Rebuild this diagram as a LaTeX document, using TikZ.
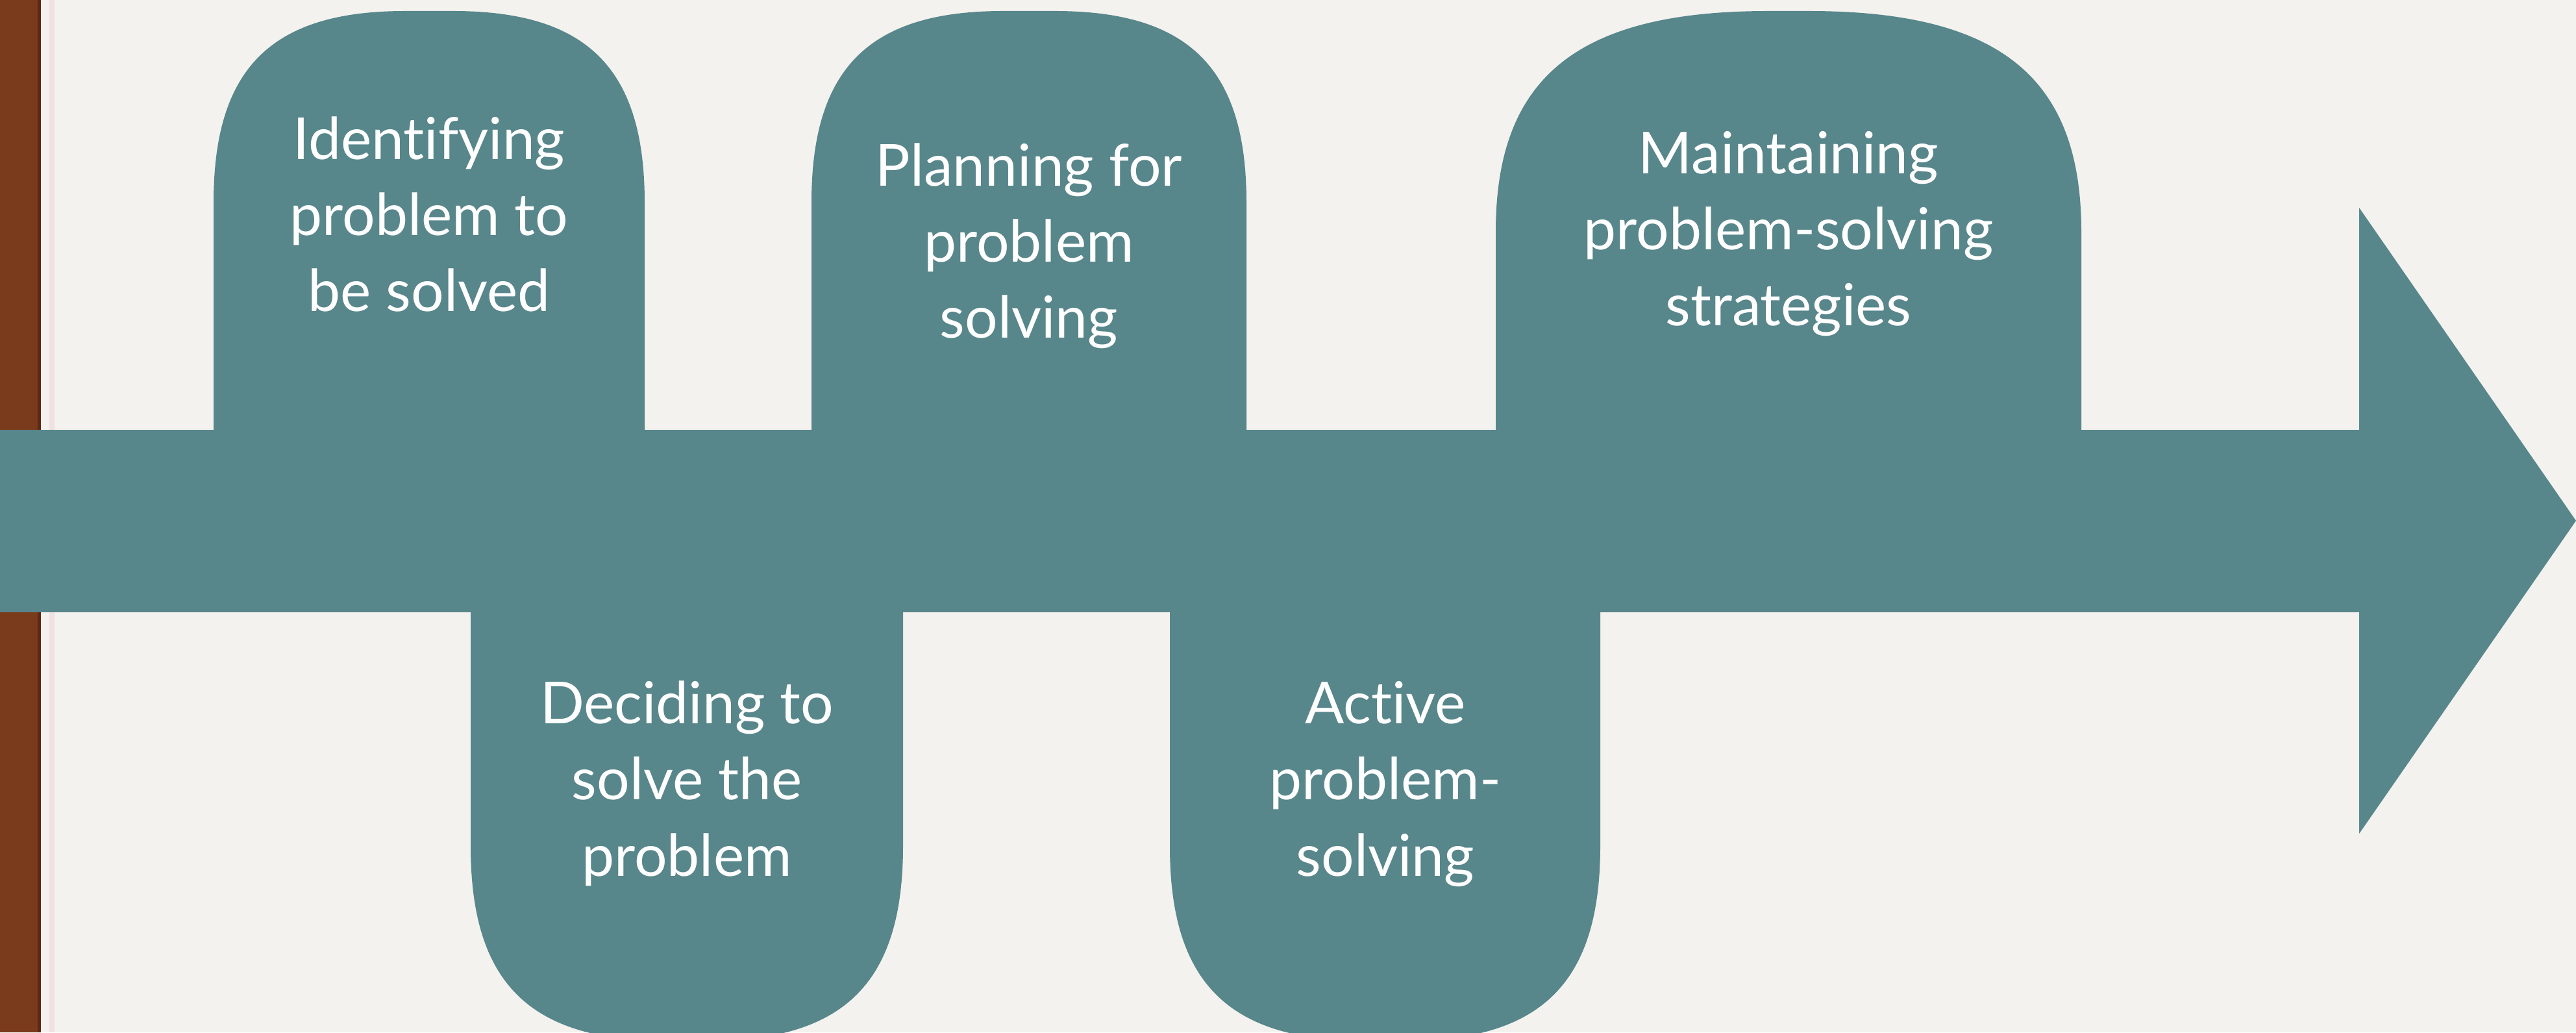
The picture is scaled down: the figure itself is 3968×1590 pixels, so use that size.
\documentclass[tikz,border=0pt]{standalone}
\usepackage{fontspec}
\setmainfont{Lato}[Ligatures=NoCommon]
\definecolor{tealA}{RGB}{87,134,139}
\definecolor{paper}{RGB}{243,242,238}
\definecolor{wood}{RGB}{122,58,28}
\definecolor{woodedge}{RGB}{95,40,18}
\definecolor{pinkline}{RGB}{240,226,226}
\begin{document}
\begin{tikzpicture}[x=0.01cm,y=0.01cm,
  tealfill/.style={fill=tealA},
  lbl/.style={text=white, align=center, font=\fontsize{25.4}{33.3}\selectfont, anchor=base, inner sep=0pt}]
\useasboundingbox (0,0) rectangle (3968,1590);
\clip (0,0) rectangle (3968,1590);
% background
\fill[paper] (0,0) rectangle (3968,1590);
\fill[wood] (0,0) rectangle (63,1590);
\fill[woodedge] (58,0) rectangle (63,1590);
\fill[pinkline] (76,0) rectangle (84,1590);
% main bar and arrowhead
\fill[tealfill] (0,647) rectangle (3640,928);
\fill[tealfill] (3634,1270) -- (3968,788) -- (3634,306) -- cycle;
% top boxes
\fill[tealfill] (329,900) -- (329,1278) .. controls (329,1484.5) and (417.5,1573) .. (624,1573)
  -- (698,1573) .. controls (904.5,1573) and (993,1484.5) .. (993,1278) -- (993,900) -- cycle;
\fill[tealfill] (1250,900) -- (1250,1278) .. controls (1250,1484.5) and (1338.5,1573) .. (1545,1573)
  -- (1625,1573) .. controls (1831.5,1573) and (1920,1484.5) .. (1920,1278) -- (1920,900) -- cycle;
\fill[tealfill] (2304,900) -- (2304,1233) .. controls (2304,1471) and (2430,1573) .. (2724,1573)
  -- (2786,1573) .. controls (3080,1573) and (3206,1471) .. (3206,1233) -- (3206,900) -- cycle;
% bottom boxes
\fill[tealfill] (725,667) -- (725,287) .. controls (725,77) and (815,-13) .. (1025,-13)
  -- (1091,-13) .. controls (1301,-13) and (1391,77) .. (1391,287) -- (1391,667) -- cycle;
\fill[tealfill] (1802,667) -- (1802,287) .. controls (1802,77) and (1892,-13) .. (2102,-13)
  -- (2165,-13) .. controls (2375,-13) and (2465,77) .. (2465,287) -- (2465,667) -- cycle;
% labels (anchor = baseline of the last line)
\node[lbl] (s1) at (661,1110) {Identifying\\problem to\\be solved};
\node[lbl] (s2) at (1058,241) {Deciding to\\solve the\\problem};
\node[lbl] (s3) at (1585,1069) {Planning for\\problem\\solving};
\node[lbl] (s4) at (2134,241) {Active\\problem-\\solving};
\node[lbl] (s5) at (2755,1088) {Maintaining\\problem-solving\\strategies};
\end{tikzpicture}
\end{document}
